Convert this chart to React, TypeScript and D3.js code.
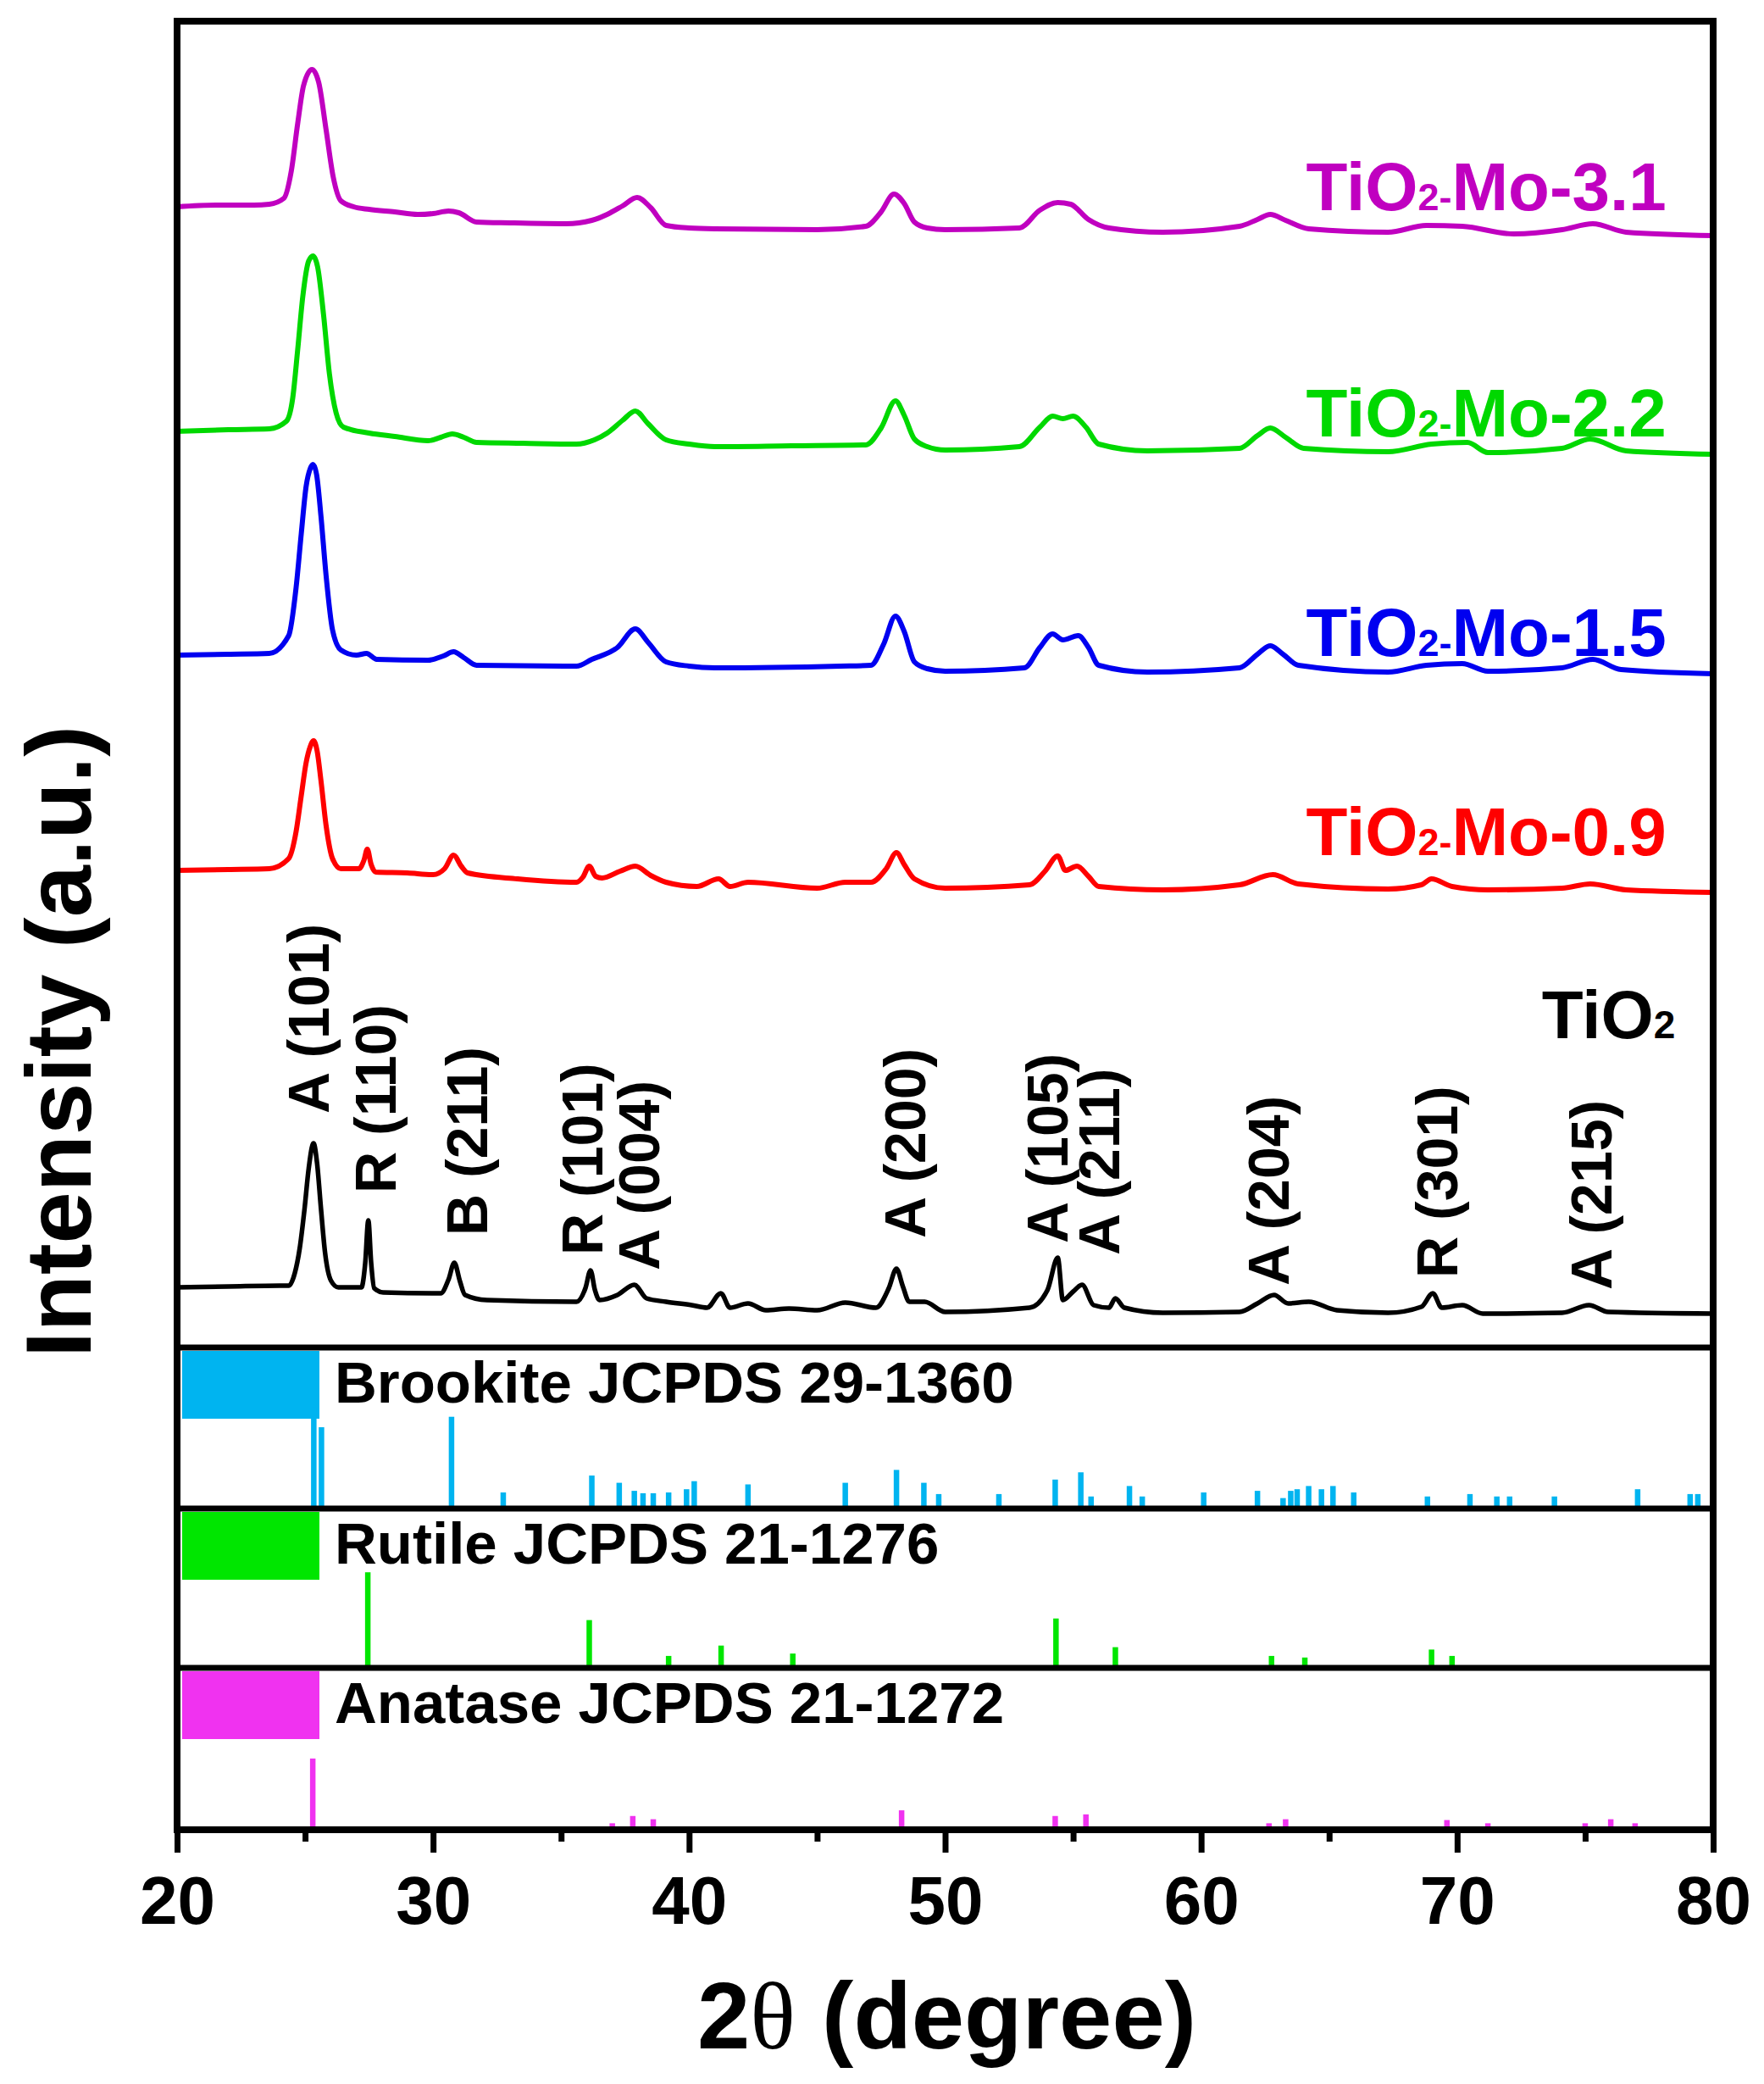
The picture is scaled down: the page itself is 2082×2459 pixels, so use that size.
import { useEffect, useRef } from 'react'
import * as d3 from 'd3'

type Pt = [number, number]

// ── measured patterns (2θ in degree, stacked intensity in a.u.) ──────────────
const TIO2: Pt[] = [
  [20.0, 71], [22.0, 72], [24.0, 73], [24.36, 73], [24.6, 88], [24.79, 117], [24.98, 164], [25.14, 211],
  [25.33, 241], [25.47, 217], [25.62, 164], [25.78, 112], [26.01, 79], [26.3, 71], [27.2, 71], [27.35, 100],
  [27.47, 150], [27.58, 100], [27.7, 70], [28.05, 65], [30.3, 64], [30.6, 80], [30.83, 100], [31.05, 78],
  [31.25, 62], [32.1, 56], [35.6, 54], [35.95, 70], [36.15, 91], [36.32, 68], [36.5, 56], [37.2, 62],
  [37.86, 74], [38.34, 58], [39.1, 54], [40.1, 50], [40.7, 47], [41.24, 64], [41.6, 47], [42.3, 52],
  [43.0, 44], [43.9, 46], [45.0, 44], [46.1, 53], [47.3, 47], [47.8, 70], [48.1, 93], [48.35, 72],
  [48.6, 54], [49.2, 54], [50.0, 42], [53.3, 47], [54.0, 68], [54.4, 106], [54.6, 56], [55.0, 66],
  [55.35, 74], [55.8, 50], [56.4, 47], [56.65, 58], [57.0, 47], [58.5, 41], [61.5, 42], [62.2, 52],
  [62.85, 62], [63.4, 52], [64.2, 54], [65.3, 44], [67.3, 41], [68.6, 48], [69.05, 64], [69.4, 47],
  [70.2, 50], [71.0, 40], [74.1, 41], [75.15, 50], [75.9, 42], [80.0, 40],
]

const MO_09: Pt[] = [
  [20.0, 563], [22.0, 564], [23.6, 565], [24.36, 577], [24.65, 609], [24.85, 651], [25.04, 690], [25.2, 709],
  [25.33, 716], [25.47, 704], [25.62, 669], [25.82, 616], [26.07, 577], [26.4, 565], [27.1, 565], [27.3, 575],
  [27.43, 588], [27.58, 570], [27.76, 561], [29.0, 560], [30.0, 558], [30.45, 565], [30.8, 581], [31.1, 568],
  [31.35, 560], [33.3, 553], [35.6, 549], [35.85, 555], [36.1, 568], [36.35, 556], [36.6, 554], [37.3, 562],
  [37.9, 568], [38.5, 557], [39.1, 549], [40.3, 544], [41.15, 553], [41.6, 544], [42.3, 549], [45.0, 542],
  [46.1, 549], [47.1, 549], [47.7, 565], [48.1, 584], [48.4, 570], [48.8, 553], [50.0, 542], [53.3, 546],
  [53.9, 562], [54.4, 580], [54.7, 563], [55.15, 568], [55.6, 556], [56.0, 544], [58.5, 540], [61.5, 546],
  [62.8, 558], [63.8, 547], [67.3, 541], [68.6, 546], [69.0, 553], [69.8, 544], [71.2, 540], [74.1, 542],
  [75.2, 547], [76.6, 540], [80.0, 537],
]

const MO_15: Pt[] = [
  [20.0, 817], [22.0, 818], [23.6, 819], [24.36, 840], [24.65, 897], [24.85, 960], [25.04, 1016], [25.2, 1037],
  [25.31, 1042], [25.45, 1030], [25.62, 981], [25.82, 911], [26.07, 847], [26.4, 823], [27.0, 817], [27.4, 819],
  [27.8, 812], [29.8, 811], [30.4, 816], [30.8, 821], [31.2, 814], [31.7, 805], [35.6, 804], [36.2, 812],
  [37.2, 826], [37.9, 848], [38.4, 832], [39.1, 809], [40.0, 804], [41.0, 802], [45.9, 804], [47.1, 805],
  [47.6, 830], [48.06, 863], [48.4, 845], [48.8, 809], [49.3, 801], [50.0, 798], [53.1, 802], [53.7, 826],
  [54.2, 842], [54.6, 835], [55.2, 840], [55.6, 826], [56.0, 805], [57.9, 797], [61.5, 802], [62.2, 818],
  [62.7, 828], [63.2, 818], [63.8, 805], [67.3, 797], [68.8, 805], [70.2, 807], [71.2, 798], [74.1, 802],
  [75.3, 812], [76.4, 800], [80.0, 795],
]

const MO_22: Pt[] = [
  [20.0, 1081], [22.0, 1083], [23.6, 1084], [24.27, 1093], [24.52, 1121], [24.71, 1177], [24.91, 1240], [25.14, 1282],
  [25.31, 1288], [25.49, 1275], [25.72, 1219], [25.95, 1149], [26.21, 1103], [26.5, 1086], [27.5, 1079], [28.5, 1075],
  [29.8, 1070], [30.3, 1074], [30.75, 1078], [31.2, 1074], [31.7, 1068], [33.5, 1067], [35.6, 1066], [36.3, 1071],
  [36.8, 1079], [37.4, 1094], [37.9, 1105], [38.4, 1090], [39.1, 1071], [40.0, 1066], [41.0, 1063], [44.0, 1064],
  [46.9, 1065], [47.5, 1085], [48.06, 1117], [48.4, 1100], [48.8, 1072], [49.3, 1063], [50.0, 1059], [52.9, 1063],
  [53.7, 1086], [54.2, 1099], [54.6, 1096], [55.0, 1099], [55.5, 1086], [56.0, 1066], [57.9, 1058], [61.5, 1061],
  [62.2, 1076], [62.7, 1085], [63.3, 1074], [64.0, 1061], [67.3, 1057], [69.0, 1066], [70.4, 1068], [71.2, 1056],
  [74.1, 1061], [75.2, 1072], [76.6, 1058], [80.0, 1054],
]

const MO_31: Pt[] = [
  [20.0, 1346], [21.5, 1348], [23.0, 1348], [23.6, 1349], [24.17, 1356], [24.46, 1388], [24.71, 1444], [24.94, 1489],
  [25.27, 1508], [25.53, 1493], [25.82, 1437], [26.1, 1381], [26.4, 1353], [26.9, 1346], [27.5, 1343], [28.5, 1340],
  [29.4, 1337], [30.0, 1338], [30.6, 1341], [31.0, 1339], [31.7, 1328], [33.0, 1327], [35.2, 1326], [36.2, 1330],
  [36.8, 1337], [37.4, 1347], [37.97, 1357], [38.5, 1345], [39.1, 1324], [40.0, 1321], [41.0, 1320], [45.0, 1319],
  [46.9, 1323], [47.5, 1340], [48.0, 1361], [48.4, 1350], [48.8, 1328], [49.3, 1321], [50.0, 1319], [52.9, 1321],
  [53.7, 1342], [54.4, 1351], [54.9, 1349], [55.6, 1331], [56.4, 1321], [58.5, 1316], [61.5, 1323], [62.2, 1331],
  [62.7, 1337], [63.3, 1330], [64.2, 1320], [67.3, 1316], [68.8, 1324], [70.2, 1323], [72.2, 1314], [74.1, 1319],
  [75.3, 1326], [76.6, 1316], [80.0, 1312],
]

const SAMPLE_SUFFIX  = ['Mo-0.9', 'Mo-1.5', 'Mo-2.2', 'Mo-3.1']
const SAMPLE_LABEL_Y = [581, 816, 1075, 1342]

// ── peak assignments on the bare TiO2 pattern ────────────────────────────────
const PEAK_LABELS  = ['A (101)', 'R (110)', 'B (211)', 'R (101)', 'A (004)', 'A (200)', 'A (105)', 'A (211)', 'A (204)', 'R (301)', 'A (215)']
const PEAK_LABEL_X = [25.92, 28.54, 32.11, 36.61, 38.83, 49.22, 54.78, 56.8, 63.41, 70.0, 76.02]
const PEAK_LABEL_Y = [276, 182, 132, 109, 91, 129, 123, 109, 73, 82, 68]

// ── reference cards (2θ, relative intensity %) ───────────────────────────────
const BROOKITE_2T  = [25.34, 25.64, 30.72, 32.74, 36.2, 37.27, 37.86, 38.2, 38.6, 39.2, 39.9, 40.2, 42.3, 46.1, 48.1, 49.17, 49.75, 52.1, 54.3, 55.3, 55.7, 57.2, 57.7, 60.1, 62.2, 63.2, 63.5, 63.75, 64.2, 64.7, 65.15, 65.96, 68.84, 70.5, 71.55, 72.05, 73.8, 77.05, 79.1, 79.4]
const BROOKITE_INT = [63, 50.5, 57, 10, 20.5, 16, 11, 9.5, 9.5, 10, 12, 17, 15, 16, 24, 16, 9, 9, 18, 22.5, 7.5, 14, 7.5, 10, 11, 6.5, 11, 12, 14, 12, 14, 10, 7.5, 9, 7.5, 7.5, 7.5, 12, 9, 9]
const RUTILE_2T    = [27.45, 36.1, 39.2, 41.25, 44.05, 54.33, 56.65, 62.75, 64.05, 69.0, 69.8]
const RUTILE_INT   = [60, 30, 7.5, 14, 9, 31, 13, 7.5, 6.5, 11.5, 7.5]
const ANATASE_2T   = [25.3, 37.0, 37.8, 38.6, 48.3, 54.3, 55.5, 62.65, 63.3, 69.6, 71.2, 75.0, 76.0, 76.95]
const ANATASE_INT  = [44, 4, 8.5, 6.5, 12, 8.5, 9.5, 4, 6.5, 6, 4, 4, 6.5, 4]
const CARD_NAMES   = ['Brookite JCPDS 29-1360', 'Rutile JCPDS 21-1276', 'Anatase JCPDS 21-1272']

const X_TICKS = [20, 30, 40, 50, 60, 70, 80]
const X_MINOR = [25, 35, 45, 55, 65, 75]

// ── constants ────────────────────────────────────────────────────────────────
const W       = 2082
const H       = 2459
const PL      = 209
const PR      = 2022
const PT      = 25
const MAIN_B  = 1590
const PANEL_B = [1780, 1968, 2159]
const FONT    = '"Liberation Sans", Arial, Helvetica, sans-serif'
const SERIF   = '"Liberation Serif", "Times New Roman", serif'

const C_SAMPLE = ['#FF0000', '#0000F0', '#00D800', '#C000C0']
const C_CARD   = ['#00B4F0', '#00E600', '#F032F0']

export default function App() {
  const ref = useRef<SVGSVGElement>(null)

  useEffect(() => {
    if (!ref.current) return
    const svg = d3.select(ref.current)
    svg.selectAll('*').remove()

    svg.append('rect').attr('width', W).attr('height', H).attr('fill', '#fff')

    const x     = d3.scaleLinear().domain([20, 80]).range([PL, PR])
    const yMain = d3.scaleLinear().domain([0, 1565]).range([MAIN_B, PT])

    // ── stacked patterns ─────────────────────────────────────────────────────
    const line = d3.line<Pt>()
      .x(d => x(d[0]))
      .y(d => yMain(d[1]))
      .curve(d3.curveMonotoneX)

    const series = [MO_09, MO_15, MO_22, MO_31]
    series.forEach((s, i) => {
      svg.append('path').datum(s)
        .attr('fill', 'none')
        .attr('stroke', C_SAMPLE[i])
        .attr('stroke-width', 6)
        .attr('stroke-linejoin', 'round')
        .attr('d', d => line(d) ?? '')
    })
    svg.append('path').datum(TIO2)
      .attr('fill', 'none')
      .attr('stroke', '#000')
      .attr('stroke-width', 5.5)
      .attr('stroke-linejoin', 'round')
      .attr('d', d => line(d) ?? '')

    // sample labels
    SAMPLE_SUFFIX.forEach((suf, i) => {
      const t = svg.append('text')
        .attr('x', x(64.1)).attr('y', yMain(SAMPLE_LABEL_Y[i]))
        .attr('font-family', FONT).attr('font-weight', 'bold').attr('font-size', 80)
        .attr('fill', C_SAMPLE[i])
      t.append('tspan').text('TiO')
      t.append('tspan').attr('font-size', 45).text('2-')
      t.append('tspan').text(suf)
    })
    const tl = svg.append('text')
      .attr('x', x(73.31)).attr('y', yMain(365))
      .attr('font-family', FONT).attr('font-weight', 'bold').attr('font-size', 80)
      .attr('fill', '#000')
    tl.append('tspan').text('TiO')
    tl.append('tspan').attr('font-size', 46).text('2')

    // peak assignments
    PEAK_LABELS.forEach((lab, i) => {
      svg.append('text')
        .attr('transform', `translate(${x(PEAK_LABEL_X[i])},${yMain(PEAK_LABEL_Y[i])}) rotate(-90)`)
        .attr('font-family', FONT).attr('font-weight', 'bold').attr('font-size', 68)
        .attr('fill', '#000')
        .text(lab)
    })

    // ── reference cards ──────────────────────────────────────────────────────
    const cards = [
      { pos: BROOKITE_2T, int: BROOKITE_INT },
      { pos: RUTILE_2T,   int: RUTILE_INT   },
      { pos: ANATASE_2T,  int: ANATASE_INT  },
    ]
    cards.forEach((c, i) => {
      const top = i === 0 ? MAIN_B : PANEL_B[i - 1]
      const bot = PANEL_B[i]
      const y   = d3.scaleLinear().domain([0, 100]).range([bot, top])
      const col = C_CARD[i]

      svg.append('rect')
        .attr('x', PL + 6).attr('y', top + 4)
        .attr('width', 162).attr('height', 80)
        .attr('fill', col)

      svg.append('g')
        .selectAll('line')
        .data(c.pos.map((p, k) => [p, c.int[k]] as Pt))
        .join('line')
          .attr('x1', d => x(d[0])).attr('x2', d => x(d[0]))
          .attr('y1', y(0)).attr('y2', d => y(d[1]))
          .attr('stroke', col).attr('stroke-width', 6.5)

      svg.append('text')
        .attr('x', PL + 186).attr('y', top + 65)
        .attr('font-family', FONT).attr('font-weight', 'bold').attr('font-size', 69)
        .attr('fill', '#000')
        .text(CARD_NAMES[i])
    })

    // ── frame & separators ───────────────────────────────────────────────────
    ;[MAIN_B, PANEL_B[0], PANEL_B[1]].forEach(yy => {
      svg.append('line')
        .attr('x1', PL).attr('x2', PR).attr('y1', yy).attr('y2', yy)
        .attr('stroke', '#000').attr('stroke-width', 7)
    })
    svg.append('rect')
      .attr('x', PL).attr('y', PT)
      .attr('width', PR - PL).attr('height', PANEL_B[2] - PT)
      .attr('fill', 'none').attr('stroke', '#000').attr('stroke-width', 8)

    // ── axes ─────────────────────────────────────────────────────────────────
    svg.append('g')
      .attr('transform', `translate(0,${PANEL_B[2]})`)
      .call(d3.axisBottom(x).tickValues(X_TICKS).tickSize(27).tickPadding(27).tickFormat(d3.format('d')))
      .call(gg => gg.select('.domain').remove())
      .call(gg => gg.selectAll('line').attr('stroke', '#000').attr('stroke-width', 7))
      .call(gg => gg.selectAll<SVGTextElement, unknown>('text')
        .attr('fill', '#000').attr('font-size', 80).attr('font-weight', 'bold').attr('font-family', FONT))

    svg.append('g')
      .attr('transform', `translate(0,${PANEL_B[2]})`)
      .call(d3.axisBottom(x).tickValues(X_MINOR).tickSize(14).tickFormat(() => ''))
      .call(gg => gg.select('.domain').remove())
      .call(gg => gg.selectAll('line').attr('stroke', '#000').attr('stroke-width', 7))

    // ── axis titles ──────────────────────────────────────────────────────────
    const xt = svg.append('text')
      .attr('x', (PL + PR) / 2 + 2).attr('y', 2417)
      .attr('text-anchor', 'middle')
      .attr('font-family', FONT).attr('font-weight', 'bold').attr('font-size', 112)
      .attr('fill', '#000')
    xt.append('tspan').text('2')
    xt.append('tspan').attr('font-family', SERIF).attr('font-weight', 'normal').text('θ')
    xt.append('tspan').text(' (degree)')

    svg.append('text')
      .attr('transform', `translate(107,1229) rotate(-90)`)
      .attr('text-anchor', 'middle')
      .attr('font-family', FONT).attr('font-weight', 'bold').attr('font-size', 110)
      .attr('fill', '#000')
      .text('Intensity (a.u.)')
  }, [])

  return (
    <div style={{ position: 'absolute', left: 0, top: 0 }}>
      <svg ref={ref} width={W} height={H} viewBox={`0 0 ${W} ${H}`} style={{ display: 'block' }} />
    </div>
  )
}
